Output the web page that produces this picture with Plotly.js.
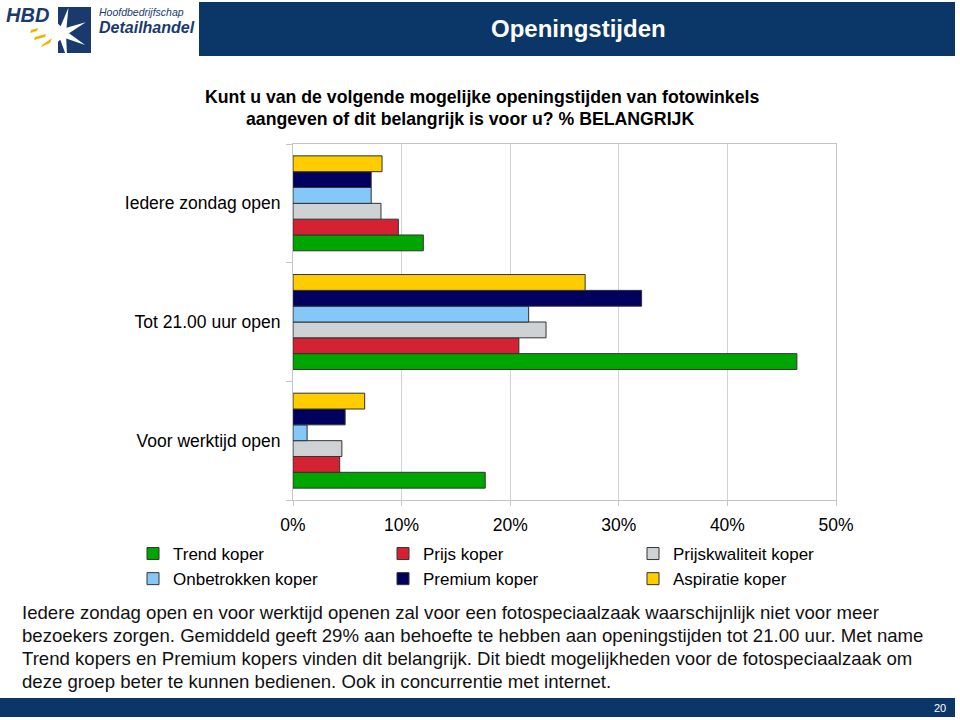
<!DOCTYPE html>
<html><head><meta charset="utf-8">
<script src="https://cdn.plot.ly/plotly-3.0.1.min.js"></script>
<style>html,body{margin:0;padding:0;background:#fff}#chart{width:960px;height:720px}</style>
</head><body><div id="chart"></div>
<script>
// ---- data ----
const categories = ['Voor werktijd open', 'Tot 21.00 uur open', 'Iedere zondag open'];
const seriesNames = ['Trend koper', 'Prijs koper', 'Prijskwaliteit koper', 'Onbetrokken koper', 'Premium koper', 'Aspiratie koper'];
const trendKoper = [17.7, 46.4, 12.0];
const prijsKoper = [4.3, 20.8, 9.7];
const prijskwaliteitKoper = [4.5, 23.3, 8.1];
const onbetrokkenKoper = [1.3, 21.7, 7.2];
const premiumKoper = [4.8, 32.1, 7.2];
const aspiratieKoper = [6.6, 26.9, 8.2];
const xTickValues = [0, 10, 20, 30, 40, 50];
const xTickLabels = ['0%', '10%', '20%', '30%', '40%', '50%'];
const titleLines = ['Kunt u van de volgende mogelijke openingstijden van fotowinkels', 'aangeven of dit belangrijk is voor u? % BELANGRIJK'];
const bodyLines = [
  'Iedere zondag open en voor werktijd openen zal voor een fotospeciaalzaak waarschijnlijk niet voor meer',
  'bezoekers zorgen. Gemiddeld geeft 29% aan behoefte te hebben aan openingstijden tot 21.00 uur. Met name',
  'Trend kopers en Premium kopers vinden dit belangrijk. Dit biedt mogelijkheden voor de fotospeciaalzaak om',
  'deze groep beter te kunnen bedienen. Ook in concurrentie met internet.'
];
const headerText = 'Openingstijden';
const pageNumber = '20';

// ---- styling ----
const seriesValues = [trendKoper, prijsKoper, prijskwaliteitKoper, onbetrokkenKoper, premiumKoper, aspiratieKoper];
const seriesColors = ['#00a600', '#d42232', '#cfd2d4', '#84c8f8', '#00005f', '#ffcc00'];
const FONT = 'Liberation Sans, Arial, sans-serif';
const NAVY = '#0b3668';

const W = 960, H = 720;
const M = {l: 293, r: 124, t: 144, b: 220};
const PW = W - M.l - M.r, PH = H - M.t - M.b;
const px = p => (p - M.l) / PW;
const py = p => (H - M.b - p) / PH;
const path = pts => 'M' + pts.map(p => px(p[0]) + ',' + py(p[1])).join('L') + 'Z';

const traces = seriesNames.map((name, i) => ({
  type: 'bar', orientation: 'h', name: name,
  y: categories, x: seriesValues[i],
  marker: {color: seriesColors[i], line: {color: '#333333', width: 1}},
  hoverinfo: 'x+name'
}));

// star for logo
const starPts = [];
const cx = 62, cy = 33, R = 26, r = 7, n = 7;
for (let k = 0; k < n * 2; k++) {
  const a = -Math.PI / 2 + k * Math.PI / n + 0.25;
  const rad = k % 2 === 0 ? R : r;
  starPts.push([cx + rad * Math.cos(a), cy + rad * Math.sin(a)]);
}

const shapes = [
  {type: 'rect', xref: 'paper', yref: 'paper', x0: px(199), x1: px(955), y0: py(2), y1: py(56), fillcolor: NAVY, line: {width: 0}, layer: 'below'},
  {type: 'rect', xref: 'paper', yref: 'paper', x0: px(0), x1: px(955), y0: py(698), y1: py(717), fillcolor: NAVY, line: {width: 0}, layer: 'below'},
  {type: 'rect', xref: 'paper', yref: 'paper', x0: px(58), x1: px(91), y0: py(7), y1: py(53), fillcolor: '#1a3a6e', line: {width: 0}, layer: 'below'},
  {type: 'path', xref: 'paper', yref: 'paper', path: path(starPts), fillcolor: '#ffffff', line: {width: 0}, layer: 'below'},
  {type: 'rect', xref: 'paper', yref: 'paper', x0: px(40), x1: px(58), y0: py(5), y1: py(55), fillcolor: '#ffffff', line: {width: 0}, layer: 'below'},
  {type: 'path', xref: 'paper', yref: 'paper', path: path([[31, 30], [38, 28], [37, 31], [30, 33]]), fillcolor: '#e8b800', line: {width: 0}, layer: 'below'},
  {type: 'path', xref: 'paper', yref: 'paper', path: path([[35, 37], [46, 34], [45, 37], [34, 40]]), fillcolor: '#e8b800', line: {width: 0}, layer: 'below'},
  {type: 'path', xref: 'paper', yref: 'paper', path: path([[42, 45], [52, 38], [50, 43], [41, 47]]), fillcolor: '#e8b800', line: {width: 0}, layer: 'below'}
];

const annotations = [
  {text: headerText, x: px(489), y: py(29), xanchor: 'left', yanchor: 'middle', font: {family: FONT, size: 24, color: '#ffffff', weight: 700}},
  {text: titleLines[0], x: px(482), y: py(97), xanchor: 'center', yanchor: 'middle', font: {family: FONT, size: 17.7, color: '#000000', weight: 700}},
  {text: titleLines[1], x: px(470), y: py(119), xanchor: 'center', yanchor: 'middle', font: {family: FONT, size: 17.7, color: '#000000', weight: 700}},
  {text: pageNumber, x: px(948), y: py(708), xanchor: 'right', yanchor: 'middle', font: {family: FONT, size: 11, color: '#ffffff'}},
  {text: 'HBD', x: px(4), y: py(15), xanchor: 'left', yanchor: 'middle', font: {family: FONT, size: 20, color: '#1a3a6e', weight: 700, style: 'italic'}},
  {text: 'Hoofdbedrijfschap', x: px(97), y: py(12), xanchor: 'left', yanchor: 'middle', font: {family: FONT, size: 10.5, color: '#1a3a6e', style: 'italic'}},
  {text: 'Detailhandel', x: px(97), y: py(27), xanchor: 'left', yanchor: 'middle', font: {family: FONT, size: 16, color: '#1a3a6e', weight: 700, style: 'italic'}}
];
bodyLines.forEach((t, i) => annotations.push({
  text: t, x: px(20), y: py(612 + i * 23), xanchor: 'left', yanchor: 'middle',
  font: {family: FONT, size: 18.6, color: '#111111'}
}));
annotations.forEach(a => { a.xref = 'paper'; a.yref = 'paper'; a.showarrow = false; });

const layout = {
  width: W, height: H,
  margin: M,
  paper_bgcolor: '#ffffff', plot_bgcolor: '#ffffff',
  font: {family: FONT, size: 17, color: '#000000'},
  barmode: 'group', bargap: 0.2, bargroupgap: 0,
  showlegend: true,
  legend: {
    orientation: 'h', x: px(133), xanchor: 'left', y: py(536), yanchor: 'top',
    entrywidth: 205, entrywidthmode: 'pixels', itemwidth: 30,
    font: {family: FONT, size: 17, color: '#000000'},
    bgcolor: 'rgba(0,0,0,0)', borderwidth: 0, traceorder: 'normal', tracegroupgap: 0
  },
  xaxis: {
    range: [0, 50], tickvals: xTickValues, ticktext: xTickLabels,
    showgrid: true, gridcolor: '#d2d2d2', gridwidth: 1,
    showline: true, linecolor: '#c4c4c4', linewidth: 1, mirror: true,
    ticks: 'outside', ticklen: 5, tickcolor: '#c4c4c4', ticklabelstandoff: 4,
    zeroline: false, fixedrange: true,
    tickfont: {family: FONT, size: 17.5, color: '#000000'}
  },
  yaxis: {
    type: 'category', categoryorder: 'array', categoryarray: categories,
    showgrid: false, showline: true, linecolor: '#c4c4c4', linewidth: 1, mirror: true,
    ticks: 'outside', tickson: 'boundaries', ticklen: 6, tickcolor: '#c4c4c4', ticklabelstandoff: 8,
    fixedrange: true,
    tickfont: {family: FONT, size: 17.5, color: '#000000'}
  },
  shapes: shapes,
  annotations: annotations
};

Plotly.newPlot('chart', traces, layout, {displayModeBar: false, staticPlot: true});
</script>
</body></html>
